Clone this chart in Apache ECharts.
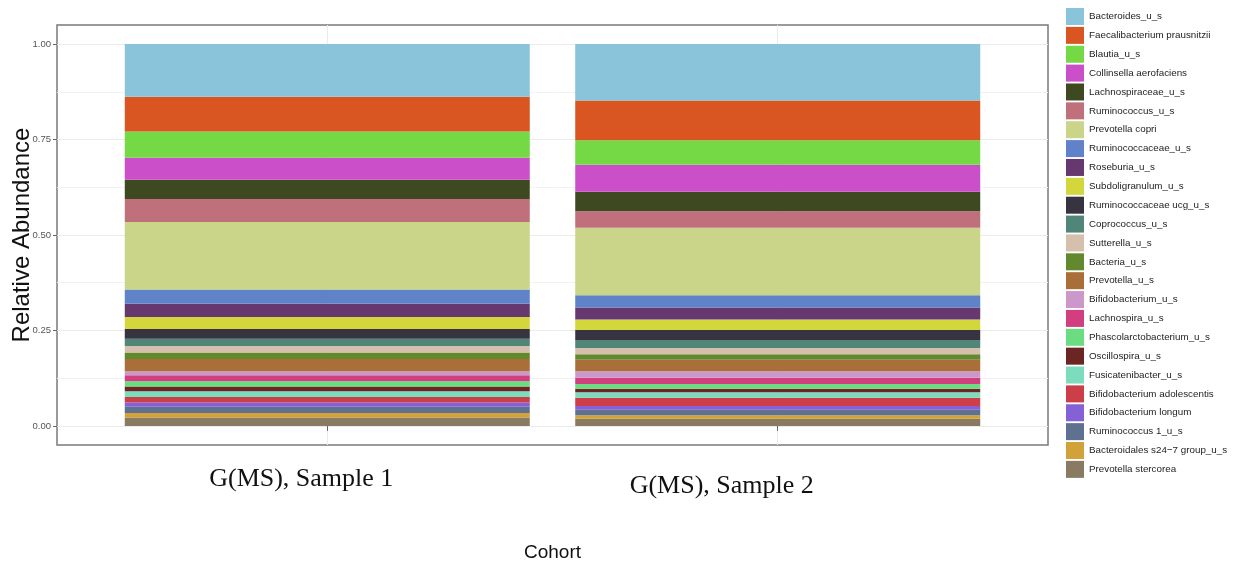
<!DOCTYPE html>
<html>
<head>
<meta charset="utf-8">
<script src="https://cdn.jsdelivr.net/npm/echarts@6/dist/echarts.min.js"></script>
<style>
  html, body { margin: 0; padding: 0; background: #fff; }
  #chart { width: 1241px; height: 565px; }
</style>
</head>
<body>
<div id="chart"></div>
<script>
// categories on the x axis
const categories = ["G(MS), Sample 1", "G(MS), Sample 2"];

// taxa, in legend order (top of the stack first)
const taxa = [
  "Bacteroides_u_s",
  "Faecalibacterium prausnitzii",
  "Blautia_u_s",
  "Collinsella aerofaciens",
  "Lachnospiraceae_u_s",
  "Ruminococcus_u_s",
  "Prevotella copri",
  "Ruminococcaceae_u_s",
  "Roseburia_u_s",
  "Subdoligranulum_u_s",
  "Ruminococcaceae ucg_u_s",
  "Coprococcus_u_s",
  "Sutterella_u_s",
  "Bacteria_u_s",
  "Prevotella_u_s",
  "Bifidobacterium_u_s",
  "Lachnospira_u_s",
  "Phascolarctobacterium_u_s",
  "Oscillospira_u_s",
  "Fusicatenibacter_u_s",
  "Bifidobacterium adolescentis",
  "Bifidobacterium longum",
  "Ruminococcus 1_u_s",
  "Bacteroidales s24\u22127 group_u_s",
  "Prevotella stercorea"
];

// relative abundance per taxon (same order as taxa)
const sample1 = [
  0.138, 0.091, 0.069, 0.057, 0.051, 0.060, 0.177, 0.037, 0.035, 0.031,
  0.026, 0.019, 0.017, 0.017, 0.032, 0.010, 0.016, 0.014, 0.012, 0.015,
  0.015, 0.011, 0.016, 0.012, 0.022
];
const sample2 = [
  0.148, 0.104, 0.064, 0.071, 0.051, 0.043, 0.177, 0.032, 0.031, 0.028,
  0.026, 0.021, 0.016, 0.015, 0.030, 0.017, 0.016, 0.013, 0.009, 0.014,
  0.022, 0.010, 0.014, 0.009, 0.019
];

const colors = [
  "#8AC4DA", "#D95622", "#74D944", "#CC4FCA", "#3E4922", "#C0707A", "#CAD58A",
  "#5F82C8", "#67386F", "#D4D73B", "#383340", "#4F8677", "#D5BFAD", "#63892E",
  "#AA6E39", "#CC98CA", "#D13F81", "#6BDC82", "#6B2623", "#7BDCBE", "#CD3F48",
  "#8461D4", "#5F7191", "#D0A237", "#8A7A62"
];

const yTicks = [0, 0.25, 0.5, 0.75, 1];
const yMinorTicks = [0.125, 0.375, 0.625, 0.875];

// bottom of the stack is the last legend entry, so build series in reverse.
// value comes first in each pair so the stack runs along y
const series = taxa
  .map((name, i) => ({
    name: name,
    type: "bar",
    stack: "total",
    barWidth: 405,
    encode: { x: 1, y: 0 },
    itemStyle: { color: colors[i] },
    emphasis: { disabled: true },
    data: [
      [sample1[i], 1],
      [sample2[i], 2]
    ]
  }))
  .reverse();

const chart = echarts.init(document.getElementById("chart"));

const option = {
  animation: false,
  backgroundColor: "#fff",
  textStyle: { fontFamily: "Liberation Sans, Arial, sans-serif" },
  grid: {
    left: 57,
    right: 193,
    top: 25,
    bottom: 120,
    outerBoundsMode: "none",
    containLabel: false,
    show: true,
    backgroundColor: "#fff",
    borderColor: "#7a7a7a",
    borderWidth: 1.5
  },
  legend: {
    data: taxa,
    orient: "vertical",
    left: 1066,
    top: 8,
    padding: 0,
    icon: "rect",
    itemWidth: 18,
    itemHeight: 17,
    itemGap: 1.87,
    selectedMode: false,
    textStyle: { fontSize: 9.8, color: "#222", fontFamily: "Liberation Sans, Arial, sans-serif" }
  },
  xAxis: {
    type: "value",
    min: 0.4,
    max: 2.6,
    name: "Cohort",
    nameLocation: "middle",
    nameGap: 98,
    nameMoveOverlap: false,
    nameTextStyle: { fontSize: 19, color: "#111" },
    axisLine: { show: false },
    axisTick: {
      show: true,
      customValues: [1, 2],
      length: 5,
      lineStyle: { color: "#666" }
    },
    axisLabel: {
      customValues: [1, 2],
      margin: 21,
      formatter: (v) => (v === 1 ? "{a|" : "{b|") + categories[v - 1] + "}",
      rich: {
        a: {
          fontFamily: "Liberation Serif, Times New Roman, serif",
          fontSize: 26,
          color: "#111",
          padding: [0, 52, 0, 0]
        },
        b: {
          fontFamily: "Liberation Serif, Times New Roman, serif",
          fontSize: 26,
          color: "#111",
          padding: [7, 112, 0, 0]
        }
      }
    },
    splitLine: { show: true, lineStyle: { color: "#EBEBEB", width: 1 } }
  },
  yAxis: [
    {
      type: "value",
      min: -0.05,
      max: 1.05,
      name: "Relative Abundance",
      nameLocation: "middle",
      nameGap: 23,
      nameMoveOverlap: false,
      nameTextStyle: { fontSize: 24, color: "#111" },
      axisLine: { show: false },
      axisTick: {
        show: true,
        customValues: yTicks,
        length: 4,
        lineStyle: { color: "#666" }
      },
      axisLabel: {
        customValues: yTicks,
        margin: 6,
        fontSize: 9.5,
        color: "#555",
        formatter: (v) => v.toFixed(2)
      },
      splitLine: { show: true, lineStyle: { color: "#EBEBEB", width: 1 } }
    },
    {
      type: "value",
      min: -0.05,
      max: 1.05,
      position: "left",
      axisLine: { show: false },
      axisTick: { show: false, customValues: yMinorTicks },
      axisLabel: { show: false, customValues: yMinorTicks },
      splitLine: { show: true, lineStyle: { color: "#F2F2F2", width: 1 } }
    }
  ],
  series: series
};

chart.setOption(option);
</script>
</body>
</html>
